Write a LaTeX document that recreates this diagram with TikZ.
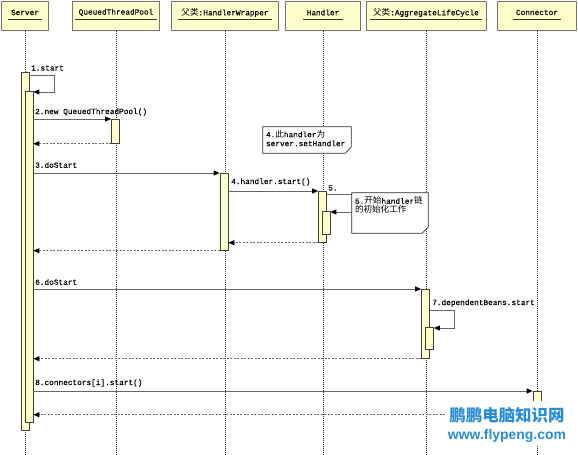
\documentclass[tikz,border=0pt]{standalone}
\usepackage{fontspec}
\setmainfont[FakeBold=0.3]{Liberation Mono}
\newfontfamily\cjk{Noto Sans CJK SC}
\newfontfamily\wmsans{Liberation Sans}
\usetikzlibrary{arrows.meta}
\definecolor{hdrfill}{RGB}{255,255,204}
\definecolor{barfill}{RGB}{255,255,204}
\definecolor{wmblue}{RGB}{40,140,215}
\newcommand\zhtxt[1]{{\cjk\fontsize{8.6}{9}\selectfont #1}}
\tikzset{
 hdr/.style={draw=black!55, line width=1bp, fill=hdrfill, minimum height=29bp, inner sep=0pt},
 htxt/.style={font=\fontsize{7.8}{9}\selectfont, inner sep=0pt},
 uline/.style={draw=black!80, line width=0.7bp},
 life/.style={draw=black!80, line width=0.7bp, dash pattern=on 1bp off 1bp},
 bar/.style={draw=black!75, fill=barfill, line width=0.7bp, minimum width=8bp, inner sep=0pt, anchor=north},
 msg/.style={draw=black!60, line width=0.9bp, -{Triangle[length=6bp,width=5bp,color=black]}},
 ret/.style={msg, dash pattern=on 2bp off 1.5bp},
 lbl/.style={font=\fontsize{7.8}{9}\selectfont, inner sep=0pt, anchor=west},
 notebox/.style={inner sep=0pt},
 noteline/.style={draw=black!80, fill=white, line width=0.8bp},
 noteshadow/.style={fill=black!45},
}
\newcommand\notepath[2]{% #1 node name, #2 style
  \path[#2] (#1.north west) -- (#1.north east) -- ([yshift=6bp]#1.south east) -- ([xshift=-6bp]#1.south east) -- (#1.south west) -- cycle;}
\begin{document}
\begin{tikzpicture}[x=1bp,y=-1bp]
\useasboundingbox[fill=white] (0,0) rectangle (578,455);
\coordinate (bot) at (0,455);
% headers
\node[hdr, minimum width=46bp] (hS) at (25,16.5) {};
\node[hdr, minimum width=87bp] (hQ) at (116,16.5) {};
\node[hdr, minimum width=107bp] (hW) at (225,16.5) {};
\node[hdr, minimum width=75bp] (hH) at (323,16.5) {};
\node[hdr, minimum width=120bp] (hA) at (426,16.5) {};
\node[hdr, minimum width=79bp] (hC) at (537,16.5) {};
\node[htxt] (tS) at (25,12.5) {Server};
\node[htxt] (tQ) at (116,12.5) {QueuedThreadPool};
\node[htxt] (tW) at (225,12.5) {\zhtxt{父类}:HandlerWrapper};
\node[htxt] (tH) at (323,12.5) {Handler};
\node[htxt] (tA) at (426,12.5) {\zhtxt{父类}:AggregateLifeCycle};
\node[htxt] (tC) at (537,12.5) {Connector};
\foreach \t in {tS,tQ,tW,tH,tA,tC}
  \draw[uline] ([xshift=-3bp]\t.west |- 0,19.5) -- ([xshift=3bp]\t.east |- 0,19.5);
% lifelines
\foreach \h in {hS,hQ,hW,hH,hA,hC}
  \draw[life] (\h.south) -- (\h.south |- bot);
% activation bars
\node[bar, minimum height=358bp] (sOut) at (25,72) {};
\node[bar, minimum height=331bp] (sIn) at (29,91) {};
\node[bar, minimum height=24bp] (qBar) at (115.5,119) {};
\node[bar, minimum height=77bp] (wBar) at (224,173) {};
\node[bar, minimum height=51bp] (hBar) at (322.5,191) {};
\node[bar, minimum height=23bp] (hIn) at (326,211) {};
\node[bar, minimum height=69bp] (aBar) at (425.5,289) {};
\node[bar, minimum height=22bp] (aIn) at (429.5,327) {};
\node[bar, minimum height=25bp] (cBar) at (537,391) {};
% 1
\draw[msg] ([yshift=-3bp]sOut.north east) -- ++(25,0) |- ([yshift=-1bp]sIn.north east);
\node[lbl] (l1) at (31,68) {1.start};
% 2
\draw[msg] (sIn.east |- qBar.north) -- (qBar.north west);
\draw[ret] (qBar.south west) -- (sIn.east |- qBar.south);
\node[lbl] (l2) at (35,112) {2.new QueuedThreadPool()};
% 3
\draw[msg] (sIn.east |- wBar.north) -- (wBar.north west);
\draw[ret] (wBar.south west) -- (sIn.east |- wBar.south);
\node[lbl] (l3) at (35,165) {3.doStart};
% note 1
\node[notebox, minimum width=88bp, minimum height=26bp] (n1) at (307,140) {};
\begin{scope}[shift={(1.5,1.5)}]\notepath{n1}{noteshadow}\end{scope}
\notepath{n1}{noteline}
\node[lbl, anchor=north west, align=left] (n1t) at ([xshift=3bp,yshift=-3bp]n1.north west) {4.\zhtxt{此}handler\zhtxt{为}\\server.setHandler};
% 4
\draw[msg] (wBar.east |- hBar.north) -- (hBar.north west);
\draw[ret] (hBar.south west) -- (wBar.east |- hBar.south);
\node[lbl] (l4) at (231,182) {4.handler.start()};
% 5
\draw[msg] ([yshift=-3bp]hBar.north east) -- ++(26,0) |- ([yshift=-1bp]hIn.north east);
\node[lbl] (l5) at (328,188) {5.};
\node[notebox, minimum width=76bp, minimum height=40bp] (n2) at (390,213) {};
\begin{scope}[shift={(1.5,1.5)}]\notepath{n2}{noteshadow}\end{scope}
\notepath{n2}{noteline}
\node[lbl, anchor=north west, align=left] (n2t) at ([xshift=3bp,yshift=-3.5bp]n2.north west) {5.\zhtxt{开始}handler\zhtxt{链}\\\zhtxt{的初始化工作}};
% 6
\draw[msg] (sIn.east |- aBar.north) -- (aBar.north west);
\draw[ret] (aBar.south west) -- (sIn.east |- aBar.south);
\node[lbl] (l6) at (35,282) {6.doStart};
% 7
\draw[msg] ([yshift=-21bp]aBar.north east) -- ++(25,0) |- ([yshift=-1bp]aIn.north east);
\node[lbl] (l7) at (432,303) {7.dependentBeans.start};
% 8
\draw[msg] (sIn.east |- cBar.north) -- (cBar.north west);
\draw[ret] ([yshift=2bp]cBar.south west) -- ([yshift=2bp]sIn.east |- cBar.south);
\node[lbl] (l8) at (35,383) {8.connectors[i].start()};
% watermark
\fill[white] (446,401) rectangle (571,446);
\node[font=\cjk\bfseries\fontsize{16.5}{18}\selectfont, text=wmblue, inner sep=0pt] (wm1) at (507,415) {鹏鹏电脑知识网};
\node[font=\wmsans\bfseries\fontsize{14}{16}\selectfont, text=wmblue, inner sep=0pt] (wm2) at (507,436) {www.flypeng.com};
\end{tikzpicture}
\end{document}
